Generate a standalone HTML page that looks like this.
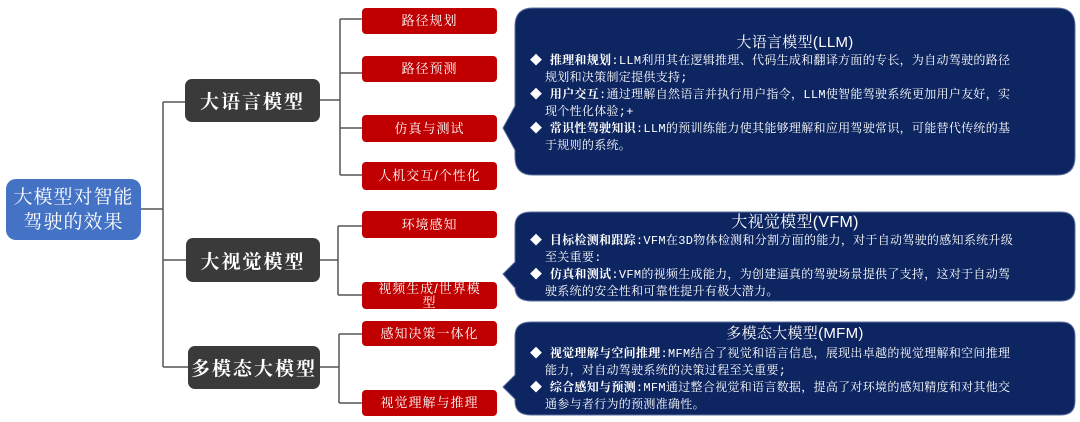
<!DOCTYPE html>
<html><head><meta charset="utf-8"><style>
*{margin:0;padding:0;box-sizing:border-box}
body{width:1080px;height:422px;background:#fff;position:relative;overflow:hidden;font-family:"Liberation Sans","Noto Serif CJK SC","Noto Sans CJK SC",serif}
.b{position:absolute;display:flex;align-items:center;justify-content:center;color:#fff;text-align:center}
.root{background:#4472c4;border-radius:10px;font-size:19px;line-height:25px;letter-spacing:1px}
.mid{background:#3a3a3a;border-radius:7px;font-size:19px;font-weight:bold;letter-spacing:2px}
.red{background:#c00000;border-radius:4px;font-size:13px;letter-spacing:1px;line-height:14px}
.co{position:absolute;left:0;top:0}
.t{position:absolute;color:#fff;font-size:12px;line-height:17px;font-family:"Liberation Mono","Noto Serif CJK SC",serif;white-space:nowrap;letter-spacing:0.3px}
.t .h{text-align:center;font-size:15px;line-height:20px;font-family:"Liberation Sans","Noto Serif CJK SC",serif}
.t div.l{padding-left:15px}
.t b{font-weight:bold}
</style></head><body>
<svg class="co" width="1080" height="422">
<g stroke="#555" stroke-width="1.5" fill="none">
<path d="M141 209H163M163 102V367M163 102H185M163 260H186M163 367H188"/>
<path d="M320 100H340M340 19V175M340 19H362M340 73H362M340 128H362M340 175H362"/>
<path d="M320 260H338M338 226V295M338 226H362M338 295H362"/>
<path d="M320 367H339M339 334V403M339 334H362M339 403H362"/>
</g>
<g fill="#0d2560" stroke="#5a6fa0" stroke-width="1">
<path d="M533 8H1057Q1075 8 1075 26V157Q1075 175 1057 175H533Q515 175 515 157V150L503 128L515 106V26Q515 8 533 8Z"/>
<path d="M531 212H1061Q1075 212 1075 226V287Q1075 301 1061 301H531Q515 301 515 287V288L503 274L515 262V226Q515 212 531 212Z"/>
<path d="M531 322H1061Q1075 322 1075 336V401Q1075 415 1061 415H531Q515 415 515 401V399L503 387L515 375V336Q515 322 531 322Z"/>
</g>
</svg>
<div class="b root" style="left:6px;top:179px;width:135px;height:61px">大模型对智能<br>驾驶的效果</div>
<div class="b mid" style="left:185px;top:79px;width:135px;height:43px">大语言模型</div>
<div class="b mid" style="left:186px;top:238px;width:134px;height:44px">大视觉模型</div>
<div class="b mid" style="left:188px;top:346px;width:132px;height:43px">多模态大模型</div>
<div class="b red" style="left:362px;top:8px;width:135px;height:26px">路径规划</div>
<div class="b red" style="left:362px;top:56px;width:135px;height:26px">路径预测</div>
<div class="b red" style="left:362px;top:115px;width:135px;height:27px">仿真与测试</div>
<div class="b red" style="left:362px;top:162px;width:135px;height:28px">人机交互/个性化</div>
<div class="b red" style="left:362px;top:211px;width:135px;height:27px">环境感知</div>
<div class="b red" style="left:362px;top:282px;width:135px;height:27px;align-items:flex-start">视频生成/世界模<br>型</div>
<div class="b red" style="left:362px;top:321px;width:135px;height:25px">感知决策一体化</div>
<div class="b red" style="left:362px;top:390px;width:135px;height:26px">视觉理解与推理</div>
<div class="t" style="left:530px;top:33px;width:530px">
<div class="h">大语言模型(LLM)</div>
<div>◆ <b>推理和规划</b>:LLM利用其在逻辑推理、代码生成和翻译方面的专长，为自动驾驶的路径</div>
<div class="l">规划和决策制定提供支持;</div>
<div>◆ <b>用户交互</b>:通过理解自然语言并执行用户指令，LLM使智能驾驶系统更加用户友好，实</div>
<div class="l">现个性化体验;+</div>
<div>◆ <b>常识性驾驶知识</b>:LLM的预训练能力使其能够理解和应用驾驶常识，可能替代传统的基</div>
<div class="l">于规则的系统。</div>
</div>
<div class="t" style="left:530px;top:213px;width:530px">
<div class="h" style="font-size:16px">大视觉模型(VFM)</div>
<div>◆ <b>目标检测和跟踪</b>:VFM在3D物体检测和分割方面的能力，对于自动驾驶的感知系统升级</div>
<div class="l">至关重要:</div>
<div>◆ <b>仿真和测试</b>:VFM的视频生成能力，为创建逼真的驾驶场景提供了支持，这对于自动驾</div>
<div class="l">驶系统的安全性和可靠性提升有极大潜力。</div>
</div>
<div class="t" style="left:530px;top:324px;width:530px">
<div class="h">多模态大模型(MFM)</div>
<div style="margin-top:2px">◆ <b>视觉理解与空间推理</b>:MFM结合了视觉和语言信息，展现出卓越的视觉理解和空间推理</div>
<div class="l">能力，对自动驾驶系统的决策过程至关重要;</div>
<div>◆ <b>综合感知与预测</b>:MFM通过整合视觉和语言数据，提高了对环境的感知精度和对其他交</div>
<div class="l">通参与者行为的预测准确性。</div>
</div>
</body></html>
